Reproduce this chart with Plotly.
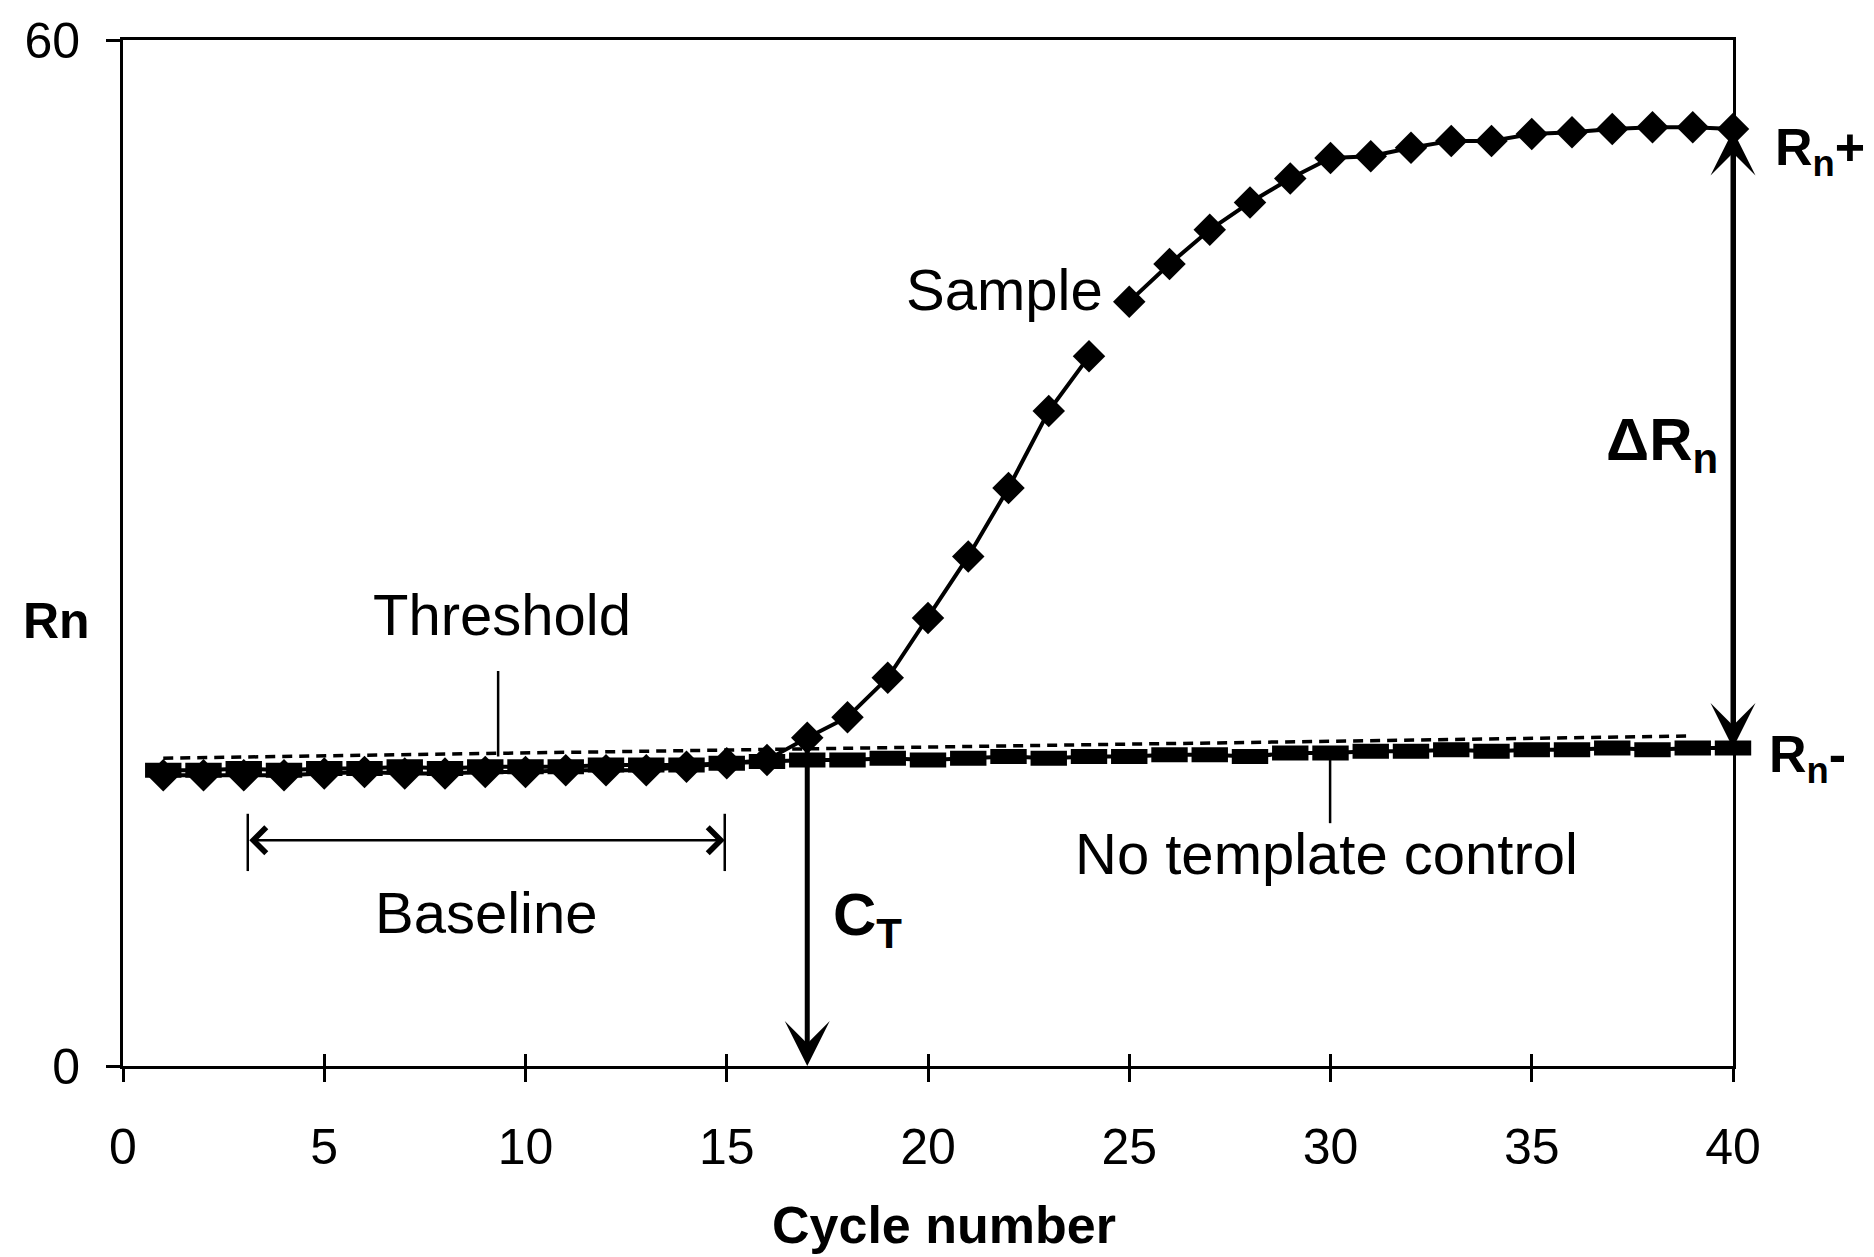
import plotly.graph_objects as go

# Real-time PCR amplification plot: reporter signal (Rn) per cycle
cycles = list(range(1, 41))
sample_rn = [17.0, 17.0, 17.0, 17.0, 17.1, 17.2, 17.1, 17.1, 17.2, 17.2,
             17.3, 17.3, 17.3, 17.5, 17.7, 17.9, 19.2, 20.4, 22.7, 26.2,
             29.8, 33.8, 38.3, 41.5, 44.7, 46.9, 48.9, 50.5, 51.9, 53.1,
             53.2, 53.7, 54.1, 54.1, 54.5, 54.6, 54.8, 54.9, 54.9, 54.8]
ntc_rn = [17.3, 17.3, 17.4, 17.3, 17.4, 17.4, 17.5, 17.4, 17.5, 17.5,
          17.5, 17.6, 17.6, 17.6, 17.7, 17.8, 17.9, 17.9, 18.0, 17.9,
          18.0, 18.1, 18.0, 18.1, 18.1, 18.2, 18.2, 18.1, 18.3, 18.3,
          18.4, 18.4, 18.5, 18.4, 18.5, 18.5, 18.6, 18.5, 18.6, 18.6]
threshold_cycles = [1, 39]
threshold_rn = [18.0, 19.3]

x_ticks = [0, 5, 10, 15, 20, 25, 30, 35, 40]
y_ticks = [0, 60]

ct_cycle = 17
ct_start = 18.8
baseline_from, baseline_to, baseline_level = 3.1, 14.95, 13.2
label_break = 24  # the "Sample" label interrupts the curve after this cycle

FONT = "Liberation Sans, Arial, Helvetica, sans-serif"
BLACK = "black"
X_MAX = 40

fig = go.Figure()

fig.add_trace(go.Scatter(
    x=threshold_cycles, y=threshold_rn, mode="lines",
    line=dict(color=BLACK, width=3.5, dash="10px,7px"),
    cliponaxis=False, hoverinfo="skip"))

fig.add_trace(go.Scatter(
    x=cycles, y=ntc_rn, mode="lines+markers",
    line=dict(color=BLACK, width=4),
    marker=dict(symbol="line-ew", size=26, color=BLACK,
                line=dict(color=BLACK, width=15)),
    cliponaxis=False))

fig.add_trace(go.Scatter(
    x=cycles[:label_break], y=sample_rn[:label_break], mode="lines",
    line=dict(color=BLACK, width=4), cliponaxis=False))
fig.add_trace(go.Scatter(
    x=cycles[label_break:], y=sample_rn[label_break:], mode="lines",
    line=dict(color=BLACK, width=4), cliponaxis=False))
fig.add_trace(go.Scatter(
    x=cycles, y=sample_rn, mode="markers",
    marker=dict(symbol="diamond", size=25, color=BLACK),
    cliponaxis=False))

# empty trace so the overlay axes (inner half of the cross ticks) are drawn
fig.add_trace(go.Scatter(x=[], y=[], xaxis="x2", yaxis="y2"))

text_font = dict(family=FONT, size=58, color=BLACK)
bold_font = dict(family=FONT, size=60, color=BLACK)
side_font = dict(family=FONT, size=52, color=BLACK)

annotations = [
    dict(x=9.42, y=26.4, text="Threshold", font=text_font),
    dict(x=21.9, y=45.4, text="Sample", font=text_font),
    dict(x=9.02, y=9.0, text="Baseline", font=text_font),
    dict(x=29.9, y=12.4, text="No template control", font=text_font),
    dict(x=17.6, y=8.6, text="<b>C<sub>T</sub></b>", font=bold_font,
         xanchor="left"),
    dict(x=36.8, y=36.4, text="<b>ΔR<sub>n</sub></b>", font=bold_font,
         xanchor="left"),
    # labels beyond the axis ranges are placed in paper coordinates
    dict(x=41.0 / X_MAX, xref="paper", y=53.5,
         text="<b>R<sub>n</sub>+</b>", font=side_font, xanchor="left"),
    dict(x=40.85 / X_MAX, xref="paper", y=18.0,
         text="<b>R<sub>n</sub>-</b>", font=side_font, xanchor="left"),
    dict(x=-1.64 / X_MAX, xref="paper", y=26.0, text="<b>Rn</b>",
         font=dict(family=FONT, size=50, color=BLACK)),
    dict(x=20.4, y=-0.155, yref="paper", text="<b>Cycle number</b>",
         font=dict(family=FONT, size=52, color=BLACK)),
]
for a in annotations:
    a.setdefault("xref", "x")
    a.setdefault("yref", "y")
    a.setdefault("showarrow", False)
    a.setdefault("xanchor", "center")
    a.setdefault("yanchor", "middle")

# C_T arrow down to the cycle axis
annotations.append(dict(
    x=ct_cycle, y=0, ax=ct_cycle, ay=ct_start, xref="x", yref="y",
    axref="x", ayref="y", text="", showarrow=True, arrowhead=3,
    arrowwidth=5, arrowsize=1.5, arrowcolor=BLACK))
# ΔRn double arrow between plateau and background
annotations.append(dict(
    x=cycles[-1], y=ntc_rn[-1], ax=cycles[-1], ay=sample_rn[-1],
    xref="x", yref="y", axref="x", ayref="y", text="", showarrow=True,
    arrowside="end+start", arrowhead=3, startarrowhead=3,
    arrowwidth=5, arrowsize=1.5, startarrowsize=1.5, arrowcolor=BLACK))
# Baseline range arrow
annotations.append(dict(
    x=baseline_to, y=baseline_level, ax=baseline_from, ay=baseline_level,
    xref="x", yref="y", axref="x", ayref="y", text="", showarrow=True,
    arrowside="end+start", arrowhead=4, startarrowhead=4,
    arrowwidth=2.5, arrowsize=2, startarrowsize=2, arrowcolor=BLACK))

line_style = dict(color=BLACK, width=2.5)
shapes = [
    # leader lines for Threshold and No template control
    dict(type="line", xref="x", yref="y", x0=9.32, x1=9.32, y0=18.1, y1=23.1,
         line=line_style),
    dict(type="line", xref="x", yref="y", x0=29.99, x1=29.99, y0=18.2,
         y1=14.2, line=line_style),
    # end bars of the baseline range
    dict(type="line", xref="x", yref="y", x0=baseline_from, x1=baseline_from,
         y0=11.4, y1=14.75, line=line_style),
    dict(type="line", xref="x", yref="y", x0=baseline_to, x1=baseline_to,
         y0=11.4, y1=14.75, line=line_style),
]

axis_common = dict(showgrid=False, zeroline=False, color=BLACK)
tick_font = dict(family=FONT, size=50, color=BLACK)

fig.update_layout(
    width=1874, height=1257,
    margin=dict(l=123, r=141, t=37, b=191),
    paper_bgcolor="white", plot_bgcolor="white",
    showlegend=False,
    annotations=annotations,
    shapes=shapes,
    xaxis=dict(range=[0, X_MAX], tickvals=x_ticks, ticks="outside",
               ticklen=13, tickwidth=2.5, tickcolor=BLACK, showline=True,
               linewidth=3, linecolor=BLACK, mirror=True, tickfont=tick_font,
               ticklabelstandoff=22, **axis_common),
    yaxis=dict(range=[0, 60], tickvals=y_ticks, ticks="outside", ticklen=14,
               tickwidth=2.5, tickcolor=BLACK, showline=True, linewidth=3,
               linecolor=BLACK, mirror=True, tickfont=tick_font,
               ticklabelstandoff=16, **axis_common),
    xaxis2=dict(range=[0, X_MAX], tickvals=x_ticks, ticks="inside",
                ticklen=12, tickwidth=2.5, tickcolor=BLACK,
                showticklabels=False, overlaying="x", anchor="y2",
                side="bottom", showline=False, **axis_common),
    yaxis2=dict(range=[0, 60], tickvals=y_ticks, ticks="inside", ticklen=12,
                tickwidth=2.5, tickcolor=BLACK, showticklabels=False,
                overlaying="y", anchor="x2", side="left", showline=False,
                **axis_common),
)

fig.write_html("out.html")
